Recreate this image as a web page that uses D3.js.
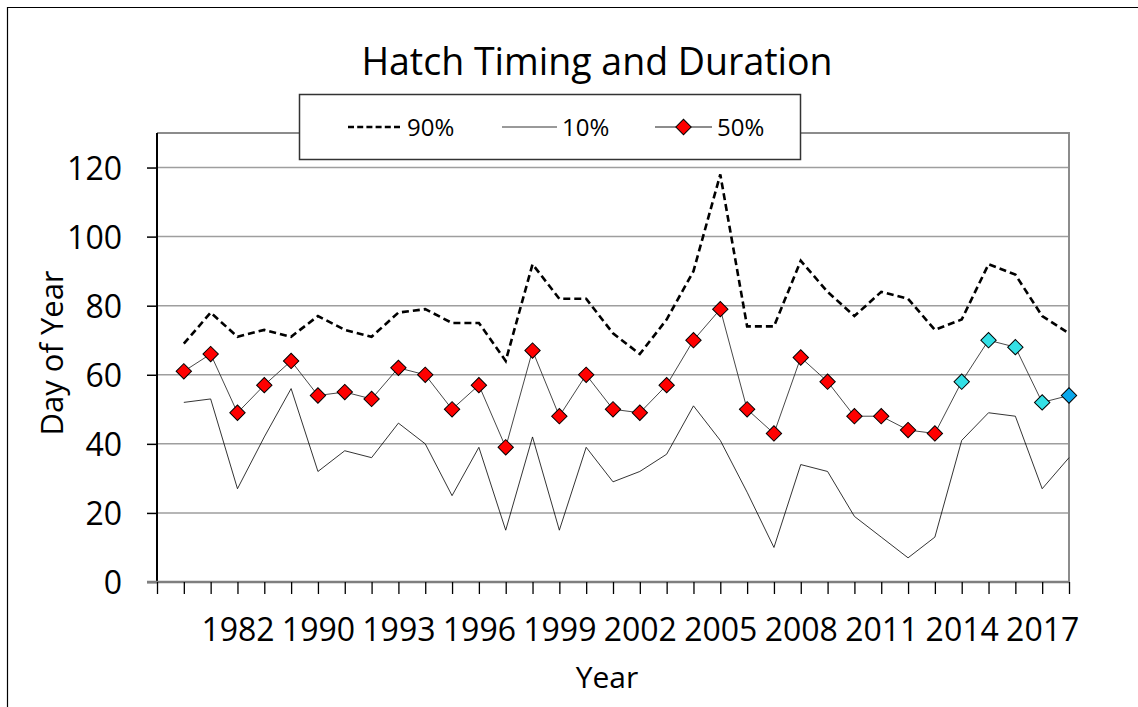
<!DOCTYPE html>
<html>
<head>
<meta charset="utf-8">
<script src="https://cdn.jsdelivr.net/npm/d3@7/dist/d3.min.js"></script>
<style>
  html, body { margin: 0; padding: 0; background: #fff; }
  svg { display: block; font-family: "Open Sans", "Noto Sans", sans-serif; }
</style>
</head>
<body>
<svg id="chart" width="1138" height="707"></svg>
<script>
// Hatch years (first slot left empty, labels shown on every third slot)
const categories = ["", "1979", "1980", "1982", "1985", "1988", "1990", "1991", "1992",
  "1993", "1994", "1995", "1996", "1997", "1998", "1999", "2000", "2001", "2002", "2003",
  "2004", "2005", "2006", "2007", "2008", "2009", "2010", "2011", "2012", "2013", "2014",
  "2015", "2016", "2017", "2018"];

// Day of year at which 90%, 10% and 50% of the hatch is reached
const pct90 = [null, 69, 78, 71, 73, 71, 77, 73, 71, 78, 79, 75, 75, 64, 92, 82, 82, 72, 66,
  76, 90, 118, 74, 74, 93, 84, 77, 84, 82, 73, 76, 92, 89, 77, 72];
const pct10 = [null, 52, 53, 27, 42, 56, 32, 38, 36, 46, 40, 25, 39, 15, 42, 15, 39, 29, 32,
  37, 51, 41, 26, 10, 34, 32, 19, 13, 7, 13, 41, 49, 48, 27, 36];
const pct50 = [null, 61, 66, 49, 57, 64, 54, 55, 53, 62, 60, 50, 57, 39, 67, 48, 60, 50, 49,
  57, 70, 79, 50, 43, 65, 58, 48, 48, 44, 43, 58, 70, 68, 52, 54];

const yTicks = [0, 20, 40, 60, 80, 100, 120];
const seriesNames = ["90%", "10%", "50%"];

// Marker fills for the median series by period
const fillEarly = "#ff0000", fillRecent = "#33e0e6", fillLatest = "#0aa8ec";
function markerFill(year) {
  if (year === "2018") return fillLatest;
  if (+year >= 2014) return fillRecent;
  return fillEarly;
}

const svg = d3.select("#chart");
const plot = { left: 157, right: 1069, top: 133, bottom: 582 };

const x = d3.scalePoint().domain(d3.range(categories.length)).range([plot.left, plot.right]);
const y = d3.scaleLinear().domain([0, 130]).range([plot.bottom, plot.top]);

// Chart frame
svg.append("path")
  .attr("d", `M7.5,707 V7.5 H1138`)
  .attr("fill", "none").attr("stroke", "#000").attr("stroke-width", 1.2);

// Gridlines
svg.append("g").selectAll("line").data(yTicks.filter(d => d > 0)).join("line")
  .attr("x1", plot.left).attr("x2", plot.right)
  .attr("y1", d => y(d)).attr("y2", d => y(d))
  .attr("stroke", "#9e9e9e").attr("stroke-width", 1.5);

// Plot area border (top and right)
svg.append("path")
  .attr("d", `M${plot.left},${plot.top} H${plot.right} V${plot.bottom}`)
  .attr("fill", "none").attr("stroke", "#8c8c8c").attr("stroke-width", 2);

// Y axis
const yAxis = svg.append("g").attr("transform", `translate(${plot.left},0)`)
  .call(d3.axisLeft(y).tickValues(yTicks).tickSize(10).tickSizeOuter(0).tickPadding(25));
yAxis.select(".domain").attr("stroke", "#000").attr("stroke-width", 2)
  .attr("d", `M0,${plot.top}V${plot.bottom}`);
yAxis.selectAll(".tick line").attr("stroke", "#000").attr("stroke-width", 1.5);
yAxis.selectAll(".tick text").attr("font-size", 32).attr("fill", "#000")
  .attr("font-family", "Open Sans").attr("dy", "0.36em");

// X axis
const xAxis = svg.append("g").attr("transform", `translate(0,${plot.bottom})`)
  .call(d3.axisBottom(x).tickSize(12).tickSizeOuter(0).tickPadding(24)
    .tickFormat(i => (i % 3 === 0 ? categories[i] : "")));
xAxis.select(".domain").attr("stroke", "#7f7f7f").attr("stroke-width", 2.5)
  .attr("d", `M${plot.left - 10},0H${plot.right}`);
xAxis.selectAll(".tick line").attr("stroke", "#000").attr("stroke-width", 1.3);
xAxis.selectAll(".tick text").attr("font-size", 32).attr("fill", "#000")
  .attr("font-family", "Open Sans").attr("dy", "0.71em");

// Series lines
const idx = d3.range(categories.length);
const lineOf = vals => d3.line().defined(i => vals[i] != null)
  .x(i => x(i)).y(i => y(vals[i]))(idx);

svg.append("path").attr("d", lineOf(pct10))
  .attr("fill", "none").attr("stroke", "#000").attr("stroke-width", 0.8);
svg.append("path").attr("d", lineOf(pct90))
  .attr("fill", "none").attr("stroke", "#000").attr("stroke-width", 2.6)
  .attr("stroke-dasharray", "7,4");
svg.append("path").attr("d", lineOf(pct50))
  .attr("fill", "none").attr("stroke", "#333").attr("stroke-width", 0.9);

// Diamond markers for the median series
const diamond = d3.symbol().type(d3.symbolSquare).size(118);
svg.append("g").selectAll("path").data(idx.filter(i => pct50[i] != null)).join("path")
  .attr("d", diamond)
  .attr("transform", i => `translate(${x(i)},${y(pct50[i])}) rotate(45)`)
  .attr("fill", i => markerFill(categories[i]))
  .attr("stroke", "#000").attr("stroke-width", 1);

// Legend
const legend = svg.append("g");
legend.append("rect").attr("x", 299.5).attr("y", 94.5).attr("width", 501).attr("height", 65)
  .attr("fill", "#fff").attr("stroke", "#333").attr("stroke-width", 1.5);
const legendItems = [
  { name: seriesNames[0], x1: 348, x2: 402, width: 2.4, dash: "6,3.2", marker: false },
  { name: seriesNames[1], x1: 502, x2: 557, width: 0.8, dash: null, marker: false },
  { name: seriesNames[2], x1: 655, x2: 712, width: 0.9, dash: null, marker: true }
];
const ly = 127;
legendItems.forEach(it => {
  legend.append("line").attr("x1", it.x1).attr("x2", it.x2).attr("y1", ly).attr("y2", ly)
    .attr("stroke", "#000").attr("stroke-width", it.width)
    .attr("stroke-dasharray", it.dash);
  if (it.marker) {
    legend.append("path").attr("d", diamond)
      .attr("transform", `translate(${(it.x1 + it.x2) / 2},${ly}) rotate(45)`)
      .attr("fill", fillEarly).attr("stroke", "#000").attr("stroke-width", 1);
  }
  legend.append("text").attr("x", it.x2 + 5).attr("y", ly + 9)
    .attr("font-size", 24).attr("fill", "#000").text(it.name);
});

// Title and axis titles
svg.append("text").attr("x", 597).attr("y", 75).attr("text-anchor", "middle")
  .attr("font-size", 37.5).attr("fill", "#000").text("Hatch Timing and Duration");
svg.append("text").attr("x", 607).attr("y", 688).attr("text-anchor", "middle")
  .attr("font-size", 30).attr("fill", "#000").text("Year");
svg.append("text").attr("transform", "translate(63,353) rotate(-90)")
  .attr("text-anchor", "middle").attr("font-size", 31).attr("fill", "#000").text("Day of Year");
</script>
</body>
</html>
